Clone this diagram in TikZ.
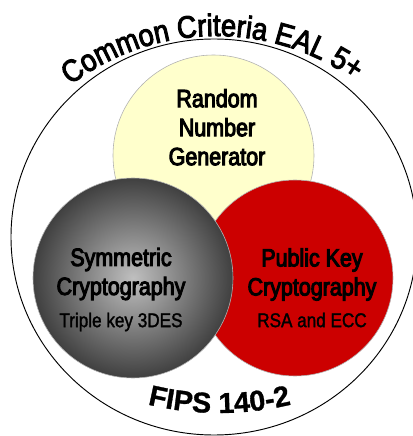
\documentclass[tikz,border=0pt]{standalone}
\usepackage{fontspec}
\setmainfont{Liberation Sans}
\newfontfamily\narrowfont{Liberation Sans}[FakeStretch=0.86, FakeBold=4]
\newfontfamily\subfont{Liberation Sans}[FakeStretch=0.86, FakeBold=1.5]
\newfontfamily\arcfamily{Liberation Sans}[FakeStretch=0.88, FakeBold=3]
\newfontfamily\fipsfamily{Liberation Sans}[FakeBold=1]
\usetikzlibrary{shapes, positioning, decorations.text}
\definecolor{rngyellow}{HTML}{FFFFCC}
\definecolor{pkred}{HTML}{CC0000}
\newcommand\arcfont{\arcfamily\fontsize{26.5}{30}\selectfont}
\newcommand\fipsfont{\fipsfamily\bfseries\fontsize{24.5}{29}\selectfont}
\tikzstyle{disc} = [draw=gray!60, line width=.5pt, circle, inner sep=0pt]
\tikzstyle{title} = [align=center, font=\narrowfont\fontsize{21.3}{24.75}\selectfont]
\tikzstyle{sub} = [font=\subfont\fontsize{17}{20}\selectfont]
\begin{document}
\begin{tikzpicture}[x=0.03cm, y=0.03cm]
  \useasboundingbox (0,0) rectangle (413,436);
  \node[draw, ellipse, line width=.8pt, minimum width=12.18cm, minimum height=11.88cm, inner sep=0pt] (cc) at (214,199) {};
  \node[disc, fill=rngyellow, minimum size=6.03cm] (rng) at (213.5,280.5) {};
  \node[disc, fill=pkred, minimum size=5.88cm] (pk) at (295,158) {};
  \node[disc, inner color=black!25, outer color=black!75, minimum size=6cm] (sym) at (133,158) {};

  \node[title] (rngtext) at (217,308.75) {Random\\Number\\Generator};
  \node[title] (symtext) at (121,162) {Symmetric\\Cryptography};
  \node[sub] (symsub) at (121,114) {Triple key 3DES};
  \node[title] (pktext) at (312,161.5) {Public Key\\Cryptography};
  \node[sub] (pksub) at (312,116) {RSA and ECC};

  \coordinate (topc) at (216,160);
  \coordinate (botc) at (219.5,329);
  \path[decorate, decoration={text along path, text align=center, text={|\arcfont|Common Criteria EAL 5+}}]
    ([shift={(130:240)}]topc) arc[start angle=130, end angle=52, radius=240];
  \path[decorate, decoration={text along path, text align=center, text={|\fipsfont|FIPS 140-2}}]
    ([shift={(252:306)}]botc) arc[start angle=252, end angle=288, radius=306];
\end{tikzpicture}
\end{document}
